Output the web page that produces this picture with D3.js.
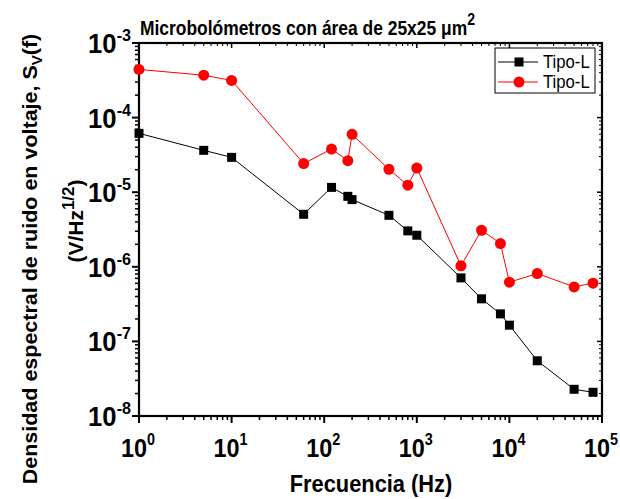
<!DOCTYPE html>
<html>
<head>
<meta charset="utf-8">
<script src="https://cdn.jsdelivr.net/npm/d3@7/dist/d3.min.js"></script>
<style>
  html, body { margin: 0; padding: 0; background: #fff; }
  svg { display: block; font-family: "Liberation Sans", Arial, sans-serif; }
</style>
</head>
<body>
<svg id="chart" width="620" height="499"></svg>
<script>
// Frequencies (Hz) and noise spectral density (V/Hz^1/2)
const freqBlack = [1, 5, 10, 60, 120, 180, 200, 500, 800, 1000, 3000, 5000, 8000, 10000, 20000, 50000, 80000];
const valBlack  = [6.15e-5, 3.64e-5, 2.93e-5, 5.06e-6, 1.16e-5, 8.8e-6, 7.96e-6, 4.9e-6, 3.03e-6, 2.65e-6,
                   7.1e-7, 3.72e-7, 2.34e-7, 1.65e-7, 5.5e-8, 2.28e-8, 2.08e-8];
const freqRed   = [1, 5, 10, 60, 120, 180, 200, 500, 800, 1000, 3000, 5000, 8000, 10000, 20000, 50000, 80000];
const valRed    = [4.42e-4, 3.7e-4, 3.15e-4, 2.42e-5, 3.79e-5, 2.65e-5, 5.96e-5, 2.03e-5, 1.24e-5, 2.11e-5,
                   1.03e-6, 3.09e-6, 2.05e-6, 6.22e-7, 8.13e-7, 5.38e-7, 6.04e-7];
const seriesNames = ["Tipo-L", "Tipo-L"];
const xTickExps = [0, 1, 2, 3, 4, 5];
const yTickExps = [-3, -4, -5, -6, -7, -8];

const svg = d3.select("#chart");
const pLeft = 139, pRight = 602, pTop = 43, pBottom = 416;

const x = d3.scaleLog().domain([1, 1e5]).range([pLeft, pRight]);
const y = d3.scaleLog().domain([1e-8, 1e-3]).range([pBottom, pTop]);

// minor tick values (2..9 within each decade)
function minors(lo, hi) {
  const out = [];
  for (let e = lo; e < hi; e++) for (let k = 2; k <= 9; k++) out.push(k * Math.pow(10, e));
  return out;
}
const xMinor = minors(0, 5), yMinor = minors(-8, -3);
const xMajor = xTickExps.map(e => Math.pow(10, e));
const yMajor = yTickExps.map(e => Math.pow(10, e));

const axisG = svg.append("g").attr("stroke", "#000");
function vTicks(vals, y1, y2, w) {
  axisG.append("g").selectAll("line").data(vals).join("line")
    .attr("x1", d => x(d)).attr("x2", d => x(d)).attr("y1", y1).attr("y2", y2).attr("stroke-width", w);
}
function hTicks(vals, x1, x2, w) {
  axisG.append("g").selectAll("line").data(vals).join("line")
    .attr("x1", x1).attr("x2", x2).attr("y1", d => y(d)).attr("y2", d => y(d)).attr("stroke-width", w);
}
// bottom ticks (outward), top ticks (inward)
vTicks(xMajor, pBottom, pBottom + 7, 2);
vTicks(xMinor, pBottom, pBottom + 4, 1.5);
vTicks(xMajor, pTop, pTop + 5, 1.5);
vTicks(xMinor, pTop, pTop + 3, 1);
// left ticks (outward), right ticks (inward)
hTicks(yMajor, pLeft - 7, pLeft, 2);
hTicks(yMinor, pLeft - 4, pLeft, 1.5);
hTicks(yMajor, pRight - 5, pRight, 1.5);
hTicks(yMinor, pRight - 3, pRight, 1);

// frame
svg.append("rect").attr("x", pLeft).attr("y", pTop).attr("width", pRight - pLeft).attr("height", pBottom - pTop)
  .attr("fill", "none").attr("stroke", "#000").attr("stroke-width", 2.2);

// bold text placed at (x0, y0), squeezed horizontally by sx
function label(x0, y0, sx, extra) {
  return svg.append("text")
    .attr("transform", `translate(${x0},${y0}) scale(${sx},1)` + (extra || ""))
    .attr("font-weight", "bold").attr("fill", "#000");
}

// tick labels
xTickExps.forEach(e => {
  const t = label(x(Math.pow(10, e)) - 1, 457, 0.9).attr("text-anchor", "middle").attr("font-size", 26);
  t.append("tspan").text("10");
  t.append("tspan").attr("font-size", 16).attr("dy", -12).text(e);
});
yTickExps.forEach(e => {
  const t = label(131, y(Math.pow(10, e)) + 10, 0.95).attr("text-anchor", "end").attr("font-size", 27);
  t.append("tspan").text("10");
  t.append("tspan").attr("font-size", 17).attr("dy", -12).text(e);
});

// lines and markers
const line = d3.line().x(d => x(d[0])).y(d => y(d[1]));
const blackPts = freqBlack.map((f, i) => [f, valBlack[i]]);
const redPts = freqRed.map((f, i) => [f, valRed[i]]);

svg.append("path").datum(blackPts).attr("d", line).attr("fill", "none").attr("stroke", "#000").attr("stroke-width", 1);
svg.append("path").datum(redPts).attr("d", line).attr("fill", "none").attr("stroke", "#ff0000").attr("stroke-width", 1);

svg.append("g").selectAll("rect").data(blackPts).join("rect")
  .attr("x", d => x(d[0]) - 4.5).attr("y", d => y(d[1]) - 4.5)
  .attr("width", 9).attr("height", 9).attr("fill", "#000");
svg.append("g").selectAll("circle").data(redPts).join("circle")
  .attr("cx", d => x(d[0])).attr("cy", d => y(d[1])).attr("r", 5.5).attr("fill", "#ff0000");

// legend
const lg = svg.append("g");
lg.append("rect").attr("x", 495).attr("y", 48).attr("width", 100).attr("height", 45)
  .attr("fill", "#fff").attr("stroke", "#000").attr("stroke-width", 1);
[0, 1].forEach(i => {
  const cy = 62 + i * 20;
  const col = i === 0 ? "#000" : "#ff0000";
  lg.append("line").attr("x1", 498).attr("x2", 538).attr("y1", cy).attr("y2", cy).attr("stroke", col).attr("stroke-width", 1);
  if (i === 0) lg.append("rect").attr("x", 514.5).attr("y", cy - 4.5).attr("width", 9).attr("height", 9).attr("fill", col);
  else lg.append("circle").attr("cx", 519).attr("cy", cy).attr("r", 5.5).attr("fill", col);
  lg.append("text").attr("transform", `translate(543,${cy + 6}) scale(0.88,1)`)
    .attr("font-size", 19).text(seriesNames[i]);
});

// title
const title = label(140, 35, 0.83).attr("font-size", 21);
title.append("tspan").text("Microbolómetros con área de 25x25 μm");
title.append("tspan").attr("font-size", 17).attr("dy", -10).text("2");

// x axis title
label(371, 492, 0.95).attr("text-anchor", "middle").attr("font-size", 23).text("Frecuencia (Hz)");

// y axis title, two lines
const yt1 = label(37, 259, 0.95, " rotate(-90)").attr("text-anchor", "middle").attr("font-size", 21.5);
yt1.append("tspan").text("Densidad espectral de ruido en voltaje, S");
yt1.append("tspan").attr("font-size", 15).attr("dy", 5).text("V");
yt1.append("tspan").attr("dy", -5).text("(f)");

const yt2 = label(83, 221, 0.95, " rotate(-90)").attr("text-anchor", "middle").attr("font-size", 21);
yt2.append("tspan").text("(V/Hz");
yt2.append("tspan").attr("font-size", 17).attr("dy", -10).text("1/2");
yt2.append("tspan").attr("dy", 10).text(")");
</script>
</body>
</html>
